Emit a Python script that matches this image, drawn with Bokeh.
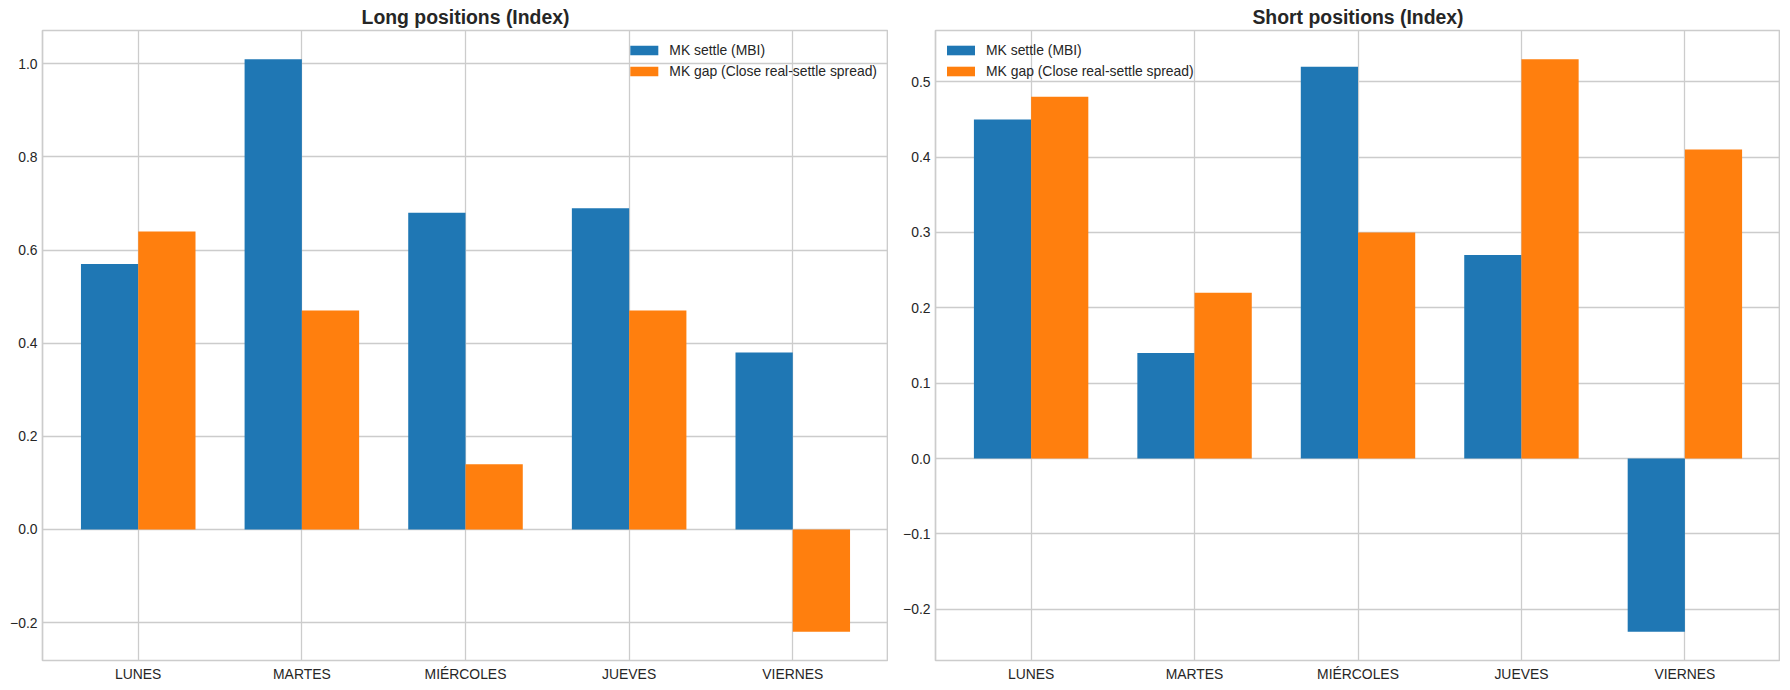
from bokeh.plotting import figure
from bokeh.layouts import row
from bokeh.models import Range1d, FixedTicker, Legend, LegendItem, CustomJSTickFormatter
from bokeh.embed import file_html
from bokeh.resources import INLINE

days = ["LUNES", "MARTES", "MIÉRCOLES", "JUEVES", "VIERNES"]
long_settle = [0.57, 1.01, 0.68, 0.69, 0.38]
long_gap = [0.64, 0.47, 0.14, 0.47, -0.22]
short_settle = [0.45, 0.14, 0.52, 0.27, -0.23]
short_gap = [0.48, 0.22, 0.30, 0.53, 0.41]
long_ticks = [-0.2, 0.0, 0.2, 0.4, 0.6, 0.8, 1.0]
short_ticks = [-0.2, -0.1, 0.0, 0.1, 0.2, 0.3, 0.4, 0.5]
series_names = ["MK settle (MBI)", "MK gap (Close real-settle spread)"]
colors = ["#1f77b4", "#ff7f0e"]
titles = ["Long positions (Index)", "Short positions (Index)"]

FONT = "Liberation Sans"
TXT = "#262626"
GRID = "#cccccc"
BAR_W = 0.35
FRAME_H = 630


def make(title, s1, s2, ticks, loc, mbl, mbr, fw):
    lo = min(min(s1), min(s2), 0.0)
    hi = max(max(s1), max(s2), 0.0)
    pad = (hi - lo) * 0.05
    n = len(days)
    xlo = -BAR_W - 0.05 * (n - 1 + 2 * BAR_W)
    xhi = n - 1 + BAR_W + 0.05 * (n - 1 + 2 * BAR_W)
    p = figure(frame_width=fw, frame_height=FRAME_H,
               x_range=Range1d(xlo, xhi), y_range=Range1d(lo - pad, hi + pad),
               output_backend="svg", toolbar_location=None,
               min_border_left=mbl, min_border_right=mbr,
               min_border_top=25, min_border_bottom=25,
               background_fill_color="white", border_fill_color="white")
    p.title.text = title
    p.title.align = "center"
    p.title.text_font = FONT
    p.title.text_font_size = "19.4px"
    p.title.text_font_style = "bold"
    p.title.text_color = TXT
    p.title.standoff = 6

    xs = list(range(n))
    r1 = p.vbar(x=[i - BAR_W / 2 for i in xs], top=s1, bottom=0, width=BAR_W,
                fill_color=colors[0], line_color=None)
    r2 = p.vbar(x=[i + BAR_W / 2 for i in xs], top=s2, bottom=0, width=BAR_W,
                fill_color=colors[1], line_color=None)

    p.xaxis.ticker = FixedTicker(ticks=xs)
    p.xaxis.major_label_overrides = {i: d for i, d in zip(xs, days)}
    p.yaxis.ticker = FixedTicker(ticks=ticks)
    p.yaxis.formatter = CustomJSTickFormatter(
        code="return tick.toFixed(1).replace('-', '\\u2212');")
    for ax in (p.xaxis, p.yaxis):
        ax.axis_line_color = None
        ax.major_tick_line_color = None
        ax.minor_tick_line_color = None
        ax.major_tick_in = 0
        ax.major_tick_out = 0
        ax.major_label_text_font = FONT
        ax.major_label_text_font_size = "13.9px"
        ax.major_label_text_color = TXT
        ax.major_label_standoff = 5
    p.xgrid.ticker = FixedTicker(ticks=xs)
    p.ygrid.ticker = FixedTicker(ticks=ticks)
    for g in (p.xgrid, p.ygrid):
        g.grid_line_color = GRID
        g.grid_line_width = 1.3
    p.outline_line_color = GRID
    p.outline_line_width = 1.7

    legend = Legend(items=[LegendItem(label=series_names[0], renderers=[r1]),
                           LegendItem(label=series_names[1], renderers=[r2])],
                    location=loc)
    legend.border_line_color = None
    legend.background_fill_alpha = 0.0
    if isinstance(loc, str):
        legend.margin = 11
    else:
        legend.margin = 0
    legend.padding = 6
    legend.glyph_width = 35
    legend.glyph_height = 12
    legend.label_standoff = 8
    legend.label_height = 18
    legend.spacing = 3
    legend.label_text_font = FONT
    legend.label_text_font_size = "13.9px"
    legend.label_text_color = TXT
    p.add_layout(legend)
    return p


p1 = make(titles[0], long_settle, long_gap, long_ticks, "top_right", 42, 0, 846)
p2 = make(titles[1], short_settle, short_gap, short_ticks, (8, FRAME_H - 50), 47, 0, 845)

layout = row(p1, p2)
open("out.html", "w").write(file_html(layout, INLINE))
